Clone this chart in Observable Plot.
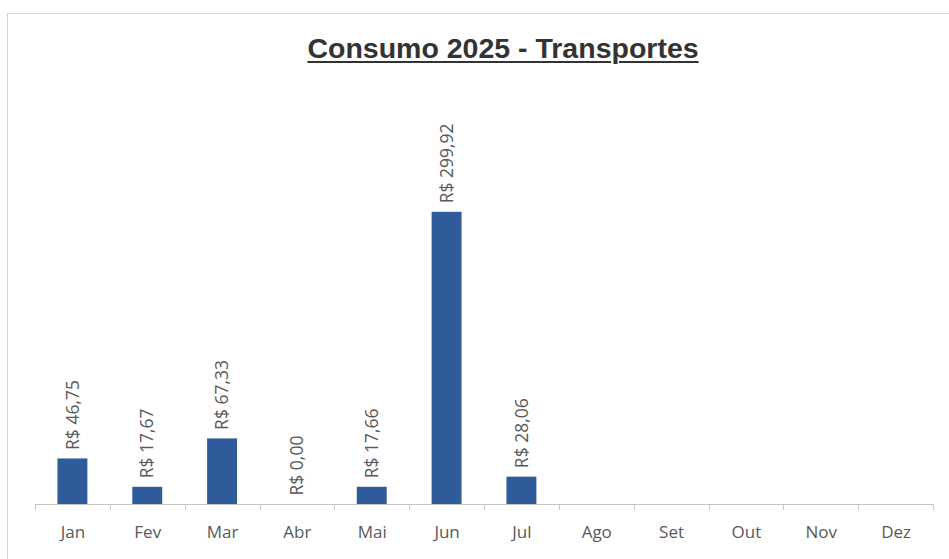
<!DOCTYPE html>
<html>
<head>
<meta charset="utf-8">
<script src="https://cdn.jsdelivr.net/npm/d3@7"></script>
<script src="https://cdn.jsdelivr.net/npm/@observablehq/plot@0.6"></script>
<style>
  html, body { margin: 0; padding: 0; background: #fff; overflow: hidden; }
  #wrap { position: relative; width: 949px; height: 559px; overflow: hidden; }
  #frame { position: absolute; left: 7px; top: 13px; width: 1000px; height: 600px;
           border-left: 1px solid #d4d4d4; border-top: 1px solid #d4d4d4; }
  #title { position: absolute; left: 0; top: 34px; width: 1006px; text-align: center;
           font-family: "Liberation Sans", Arial, sans-serif; font-weight: bold; font-size: 28.5px;
           line-height: 1; color: #333333; text-decoration: underline; text-decoration-thickness: 2px;
           text-underline-offset: 3px; }
  #chart { position: absolute; left: 0; top: 0; }
</style>
</head>
<body>
<div id="wrap">
  <div id="frame"></div>
  <div id="title">Consumo 2025 - Transportes</div>
  <div id="chart"></div>
</div>
<script>
const months = ["Jan", "Fev", "Mar", "Abr", "Mai", "Jun", "Jul", "Ago", "Set", "Out", "Nov", "Dez"];
const values = [46.75, 17.67, 67.33, 0.00, 17.66, 299.92, 28.06, null, null, null, null, null];
const yMax = 350;

const data = months.map((m, i) => ({month: m, value: values[i]}));
const present = data.filter(d => d.value != null);
const fmt = v => "R$ " + v.toFixed(2).replace(".", ",");

// category boundary tick marks drawn from the x band scale
function boundaryTicks(index, scales, values, dims) {
  const x = scales.x, y = scales.y;
  const step = x(months[1]) - x(months[0]);
  const bw = step * 0.4;
  const gap = (step - bw) / 2;
  const y0 = y(0);
  const g = d3.create("svg:g").attr("stroke", "#c6c6c6").attr("stroke-width", 1);
  const edges = months.map(m => x(m) - gap);
  edges.push(x(months[months.length - 1]) + bw + gap);
  for (const e of edges) {
    g.append("line").attr("x1", Math.round(e) + 0.5).attr("x2", Math.round(e) + 0.5)
      .attr("y1", y0).attr("y2", y0 + 6);
  }
  return g.node();
}

const plot = Plot.plot({
  width: 949,
  height: 559,
  marginLeft: 35,
  marginRight: 16,
  marginTop: 163,
  marginBottom: 55,
  style: {fontFamily: "'Open Sans', sans-serif", fontSize: "17px", color: "#595959", background: "transparent", overflow: "visible"},
  x: {domain: months, paddingInner: 0.6, paddingOuter: 0.3, round: false, tickSize: 0, tickPadding: 21, label: null},
  y: {domain: [0, yMax], axis: null},
  marks: [
    Plot.barY(present, {x: "month", y: "value", fill: "#2f5b9b"}),
    Plot.ruleY([0], {stroke: "#c6c6c6"}),
    boundaryTicks,
    Plot.text(present, {x: "month", y: "value", text: d => fmt(d.value), rotate: -90, textAnchor: "start", dy: -9, fill: "#595959", fontSize: 17.5})
  ]
});
document.getElementById("chart").appendChild(plot);
</script>
</body>
</html>
